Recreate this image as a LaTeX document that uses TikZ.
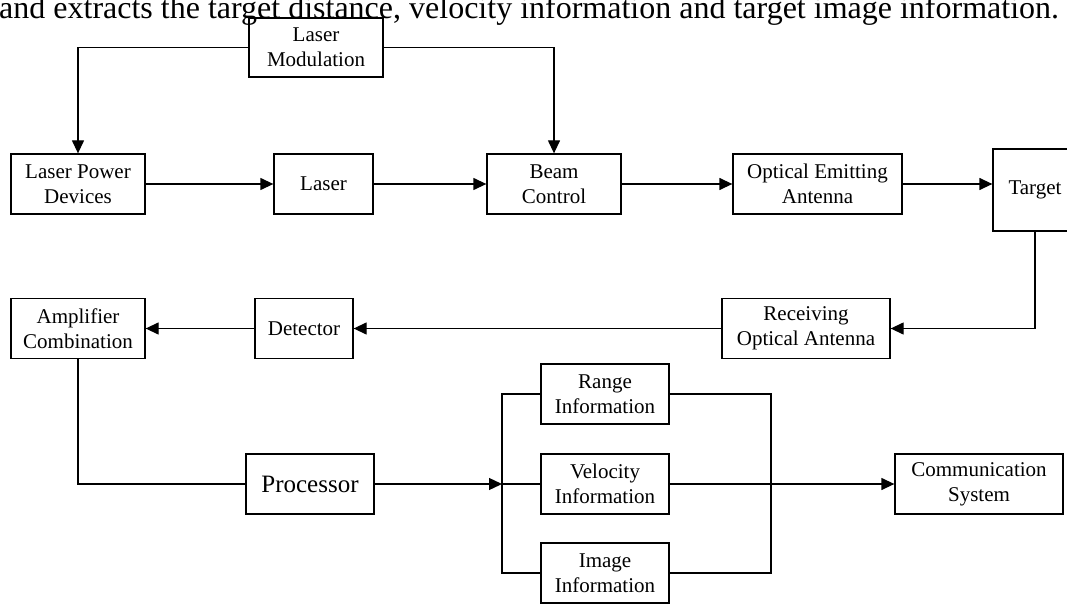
\documentclass[tikz,border=0pt]{standalone}
\usepackage{fontspec}
\setmainfont{Liberation Serif}
\usetikzlibrary{arrows.meta}

\begin{document}
\begin{tikzpicture}[
    x=1pt, y=-1pt,
    box/.style={draw, rectangle, line width=1.3pt, align=center, inner sep=0pt,
                minimum height=60pt, font=\fontsize{21}{25}\selectfont},
    line/.style={line width=1.3pt},
    >={Triangle[length=13pt, width=12pt]}
]
    \clip (0,0) rectangle (1067,604);

    % 顶部被截断的正文
    \node[anchor=base west, inner sep=0pt, font=\fontsize{32}{34}\selectfont] (caption) at (-1,18.5)
        {and extracts the target distance, velocity information and target image information.};

    % 节点定义 (发射部分)
    \node[box, minimum width=134pt, minimum height=59pt] (LM) at (316,47.5) {Laser\\Modulation}; % 激光调制
    \node[box, minimum width=134pt] (LPD) at (78,184) {Laser Power\\Devices};        % 激光电源
    \node[box, minimum width=99pt] (LSR) at (323.5,184) {Laser};                     % 激光器
    \node[box, minimum width=134pt] (BEAM) at (554,184) {Beam\\Control};             % 光束控制
    \node[box, minimum width=169pt] (OEA) at (817.5,184) {Optical Emitting\\Antenna}; % 发射天线
    \node[box, minimum width=84pt, minimum height=82pt] (TGT) at (1035,190) {Target}; % 目标

    % 节点定义 (接收部分)
    \node[box, minimum width=168pt] (RX) at (806,328.5) {Receiving\\Optical Antenna}; % 接收天线
    \node[box, minimum width=98pt] (DET) at (304,328.5) {Detector};                   % 探测器
    \node[box, minimum width=134pt] (AMP) at (78,328.5) {Amplifier\\Combination};     % 放大器
    \node[box, minimum width=128pt, font=\fontsize{25}{30}\selectfont] (PROC) at (310,484) {Processor}; % 处理器

    % 节点定义 (信息输出)
    \node[box, minimum width=128pt] (RNG) at (605,394) {Range\\Information};
    \node[box, minimum width=128pt] (VEL) at (605,484) {Velocity\\Information};
    \node[box, minimum width=128pt] (IMG) at (605,573) {Image\\Information};
    \node[box, minimum width=168pt] (COM) at (979,484) {Communication\\System};

    % 汇流点
    \coordinate (busL) at (502,484);
    \coordinate (busR) at (771,484);

    % 1. 激光调制 -> 电源 / 光束控制
    \draw[line, ->] (LM.west) -| (LPD);
    \draw[line, ->] (LM.east) -| (BEAM);

    % 2. 发射链路
    \draw[line, ->] (LPD) -- (LSR);
    \draw[line, ->] (LSR) -- (BEAM);
    \draw[line, ->] (BEAM) -- (OEA);
    \draw[line, ->] (OEA) -- (OEA.east -| TGT.west);

    % 3. 接收链路
    \draw[line, ->] (TGT) |- (RX);
    \draw[line, ->] (RX) -- (DET);
    \draw[line, ->] (DET) -- (AMP);
    \draw[line] (AMP) |- (PROC);
    \draw[line, ->] (PROC) -- (busL);

    % 4. 信息分支与通信系统
    \draw[line] (RNG.west) -| (busL) |- (IMG.west);
    \draw[line] (busL) -- (VEL);
    \draw[line] (RNG.east) -| (busR) |- (IMG.east);
    \draw[line, ->] (VEL) -- (COM);

\end{tikzpicture}
\end{document}
